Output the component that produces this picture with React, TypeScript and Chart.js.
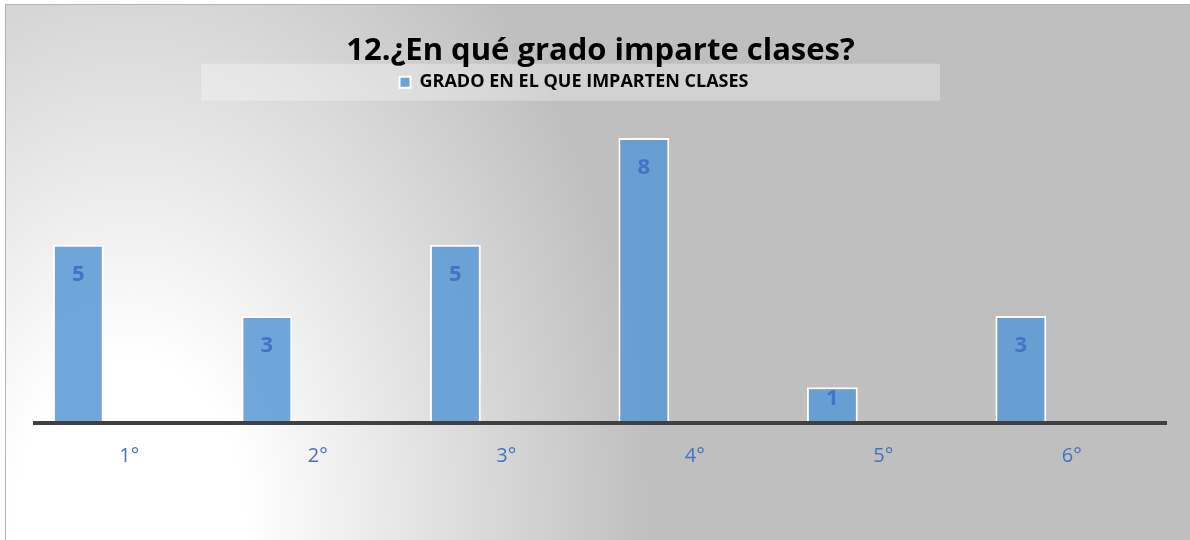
import React, { useEffect, useRef } from "react";
import { Chart, registerables } from "chart.js";

Chart.register(...registerables);

const TITLE = "12.¿En qué grado imparte clases?";
const SERIES_NAME = "GRADO EN EL QUE IMPARTEN CLASES";
const CATEGORIES = ["1°", "2°", "3°", "4°", "5°", "6°"];
const VALUES = [5, 3, 5, 8, 1, 3];
// two empty placeholder series (as in the source workbook) that reserve slots
const EMPTY_SERIES_B = [0, 0, 0, 0, 0, 0];
const EMPTY_SERIES_C = [0, 0, 0, 0, 0, 0];
const Y_MAX = 9.03;

const BAR_COLOR = "rgba(91,155,213,0.88)";
const LABEL_COLOR = "#4472c4";
const FONT = "'Open Sans', 'Noto Sans', sans-serif";
const LEGEND_SHIFT = -26.5;

const backgroundPlugin = {
  id: "bgPlugin",
  beforeDraw(chart: any) {
    const { ctx, width, height } = chart;
    ctx.save();
    ctx.fillStyle = "#ffffff";
    ctx.fillRect(0, 0, width, height);
    // radial light patch at bottom-left
    ctx.save();
    ctx.beginPath();
    ctx.rect(5, 4, width - 5, height - 4);
    ctx.clip();
    ctx.translate(130, 520);
    ctx.scale(1, 1.4);
    const g = ctx.createRadialGradient(0, 0, 0, 0, 0, 520);
    g.addColorStop(0, "#ffffff");
    g.addColorStop(0.22, "#ffffff");
    g.addColorStop(1, "#bfbfbf");
    ctx.fillStyle = g;
    ctx.fillRect(-200, -600, 2000, 1000);
    ctx.restore();
    // frame
    ctx.strokeStyle = "#b4b4b4";
    ctx.lineWidth = 1;
    ctx.beginPath();
    ctx.moveTo(5.5, height);
    ctx.lineTo(5.5, 4.5);
    ctx.lineTo(width, 4.5);
    ctx.stroke();
    // legend band
    const legend = chart.legend;
    if (legend && legend.legendHitBoxes && legend.legendHitBoxes.length) {
      const hb = legend.legendHitBoxes[0];
      const cx = hb.left + hb.width / 2 - 3.5;
      const cy = hb.top + hb.height / 2;
      ctx.fillStyle = "rgba(255,255,255,0.3)";
      ctx.fillRect(cx - 369.5, cy - 18.5, 739, 37);
    }
    ctx.restore();
  },
};

const legendShiftPlugin = {
  id: "legendShift",
  afterLayout(chart: any) {
    const lg = chart.legend;
    if (lg) {
      lg.left += LEGEND_SHIFT;
      lg.right += LEGEND_SHIFT;
    }
  },
};

const dataLabelPlugin = {
  id: "dataLabels",
  afterDatasetsDraw(chart: any) {
    const { ctx } = chart;
    const meta = chart.getDatasetMeta(0);
    ctx.save();
    ctx.fillStyle = LABEL_COLOR;
    ctx.font = `bold 22px ${FONT}`;
    ctx.textAlign = "center";
    ctx.textBaseline = "middle";
    meta.data.forEach((bar: any, i: number) => {
      const { x, y, base } = bar.getProps(["x", "y", "base"], true);
      const h = base - y;
      const ty = y + Math.min(30, h * 0.33);
      ctx.fillText(String(VALUES[i]), x, ty);
    });
    ctx.restore();
  },
};

export default function App() {
  const canvasRef = useRef<HTMLCanvasElement | null>(null);

  useEffect(() => {
    document.body.style.margin = "0";
    const canvas = canvasRef.current;
    if (!canvas) return;
    const chart = new Chart(canvas, {
      type: "bar",
      data: {
        labels: CATEGORIES,
        datasets: [
          {
            label: SERIES_NAME,
            data: VALUES,
            backgroundColor: BAR_COLOR,
            borderColor: "#ffffff",
            borderWidth: 2,
            categoryPercentage: 0.81,
            barPercentage: 1,
          },
          {
            label: "",
            data: EMPTY_SERIES_B,
            backgroundColor: "rgba(0,0,0,0)",
            borderWidth: 0,
            categoryPercentage: 0.81,
            barPercentage: 1,
          },
          {
            label: "",
            data: EMPTY_SERIES_C,
            backgroundColor: "rgba(0,0,0,0)",
            borderWidth: 0,
            categoryPercentage: 0.81,
            barPercentage: 1,
          },
        ],
      },
      options: {
        animation: false,
        responsive: false,
        devicePixelRatio: 1,
        layout: { padding: { left: 35, right: 24, top: 0, bottom: 51 } },
        plugins: {
          title: {
            display: true,
            text: TITLE,
            color: "#000000",
            font: { family: FONT, size: 31, weight: "bold" },
            padding: { top: 33, bottom: 0 },
          },
          legend: {
            display: true,
            position: "top",
            labels: {
              color: "#000000",
              font: { family: FONT, size: 18, weight: "bold" },
              boxWidth: 11,
              boxHeight: 11,
              padding: 3,
              filter: (item: any) => item.datasetIndex === 0,
            },
          },
          tooltip: { enabled: false },
        },
        scales: {
          x: {
            offset: true,
            grid: { display: false, drawTicks: false },
            border: { display: true, color: "#404040", width: 4, z: 1 },
            ticks: {
              color: LABEL_COLOR,
              font: { family: FONT, size: 20 },
              padding: 21,
            },
          },
          y: {
            display: false,
            min: 0,
            max: Y_MAX,
          },
        },
      },
      plugins: [backgroundPlugin, legendShiftPlugin, dataLabelPlugin],
    } as any);
    return () => chart.destroy();
  }, []);

  return (
    <div style={{ width: 1190, height: 540 }}>
      <canvas ref={canvasRef} width={1190} height={540} style={{ display: "block" }} />
    </div>
  );
}
